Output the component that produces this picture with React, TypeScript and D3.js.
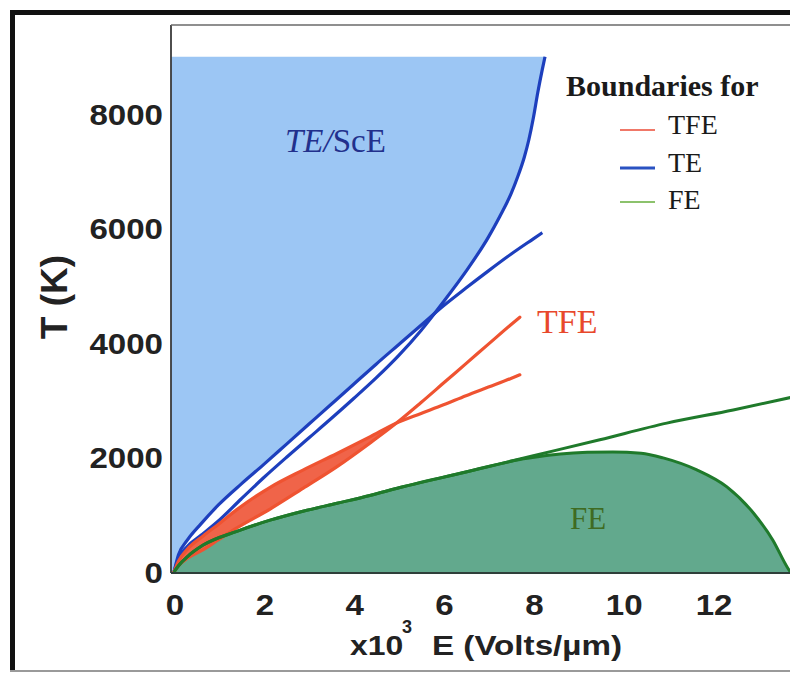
import React from 'react';
import * as d3 from 'd3';

// ---------- data (E in x10^3 Volts/µm, T in K) ----------
const E_TICKS = [0, 2, 4, 6, 8, 10, 12];
const T_TICKS = [0, 2000, 4000, 6000, 8000];

// TE boundary, gentle (concave) branch
const TE_GENTLE_E = [0, 0.1, 0.3, 0.6, 1.0, 1.5, 2.0, 2.5, 3.0, 3.5, 4.0, 4.5, 5.0, 5.5, 6.0, 6.5, 7.0, 7.5, 8.0, 8.2];
const TE_GENTLE_T = [0, 300, 560, 840, 1180, 1540, 1880, 2230, 2580, 2930, 3280, 3630, 3970, 4310, 4650, 4960, 5260, 5550, 5820, 5927];

// TE boundary, steep (convex) branch
const TE_STEEP_E = [0, 0.1, 0.3, 0.6, 1.0, 1.5, 2.0, 2.5, 3.0, 3.5, 4.0, 4.5, 5.0, 5.5, 6.0, 6.5, 7.0, 7.25, 7.5, 7.65, 7.8, 7.9, 8.0, 8.1, 8.2, 8.26];
const TE_STEEP_T = [0, 240, 450, 640, 900, 1280, 1650, 2000, 2340, 2680, 3030, 3390, 3780, 4220, 4720, 5250, 5850, 6206, 6600, 6900, 7250, 7550, 7930, 8380, 8780, 9000];
const TE_FILL_TOP = 9000;

// TFE boundaries (two curves that bound the band, then split)
const TFE_E = [0, 0.1, 0.3, 0.65, 1.0, 1.4, 2.14, 2.87, 3.63, 4.36, 4.96, 5.5, 6.0, 6.5, 7.0, 7.5, 7.7];
const TFE_A_T = [0, 190, 400, 630, 840, 1090, 1480, 1780, 2070, 2360, 2605, 2770, 2920, 3080, 3230, 3380, 3444];
const TFE_B_T = [0, 110, 240, 390, 570, 770, 1100, 1460, 1840, 2250, 2605, 2960, 3300, 3640, 3980, 4320, 4450];
const TFE_BAND_END = 4.96;

// FE boundary line
const FE_LINE_E = [0, 0.1, 0.3, 0.65, 1.4, 2.14, 2.87, 3.63, 4.36, 5.03, 6.52, 8.0, 9.48, 10.97, 12.45, 13.8];
const FE_LINE_T = [0, 110, 270, 470, 710, 905, 1062, 1200, 1335, 1475, 1750, 2030, 2310, 2600, 2830, 3060];

// FE dome
const FE_DOME_E = [0, 0.1, 0.3, 0.65, 1.4, 2.14, 2.87, 3.63, 4.36, 5.03, 6.52, 7.7, 8.1, 8.6, 9.2, 9.77, 10.4, 10.89, 11.64, 12.31, 12.9, 13.33, 13.65, 13.72];
const FE_DOME_T = [0, 110, 270, 470, 710, 905, 1062, 1200, 1335, 1475, 1750, 1965, 2012, 2060, 2090, 2098, 2075, 1993, 1783, 1486, 1031, 559, 87, 0];

const LEGEND_LABELS = ['TFE', 'TE', 'FE'];

// ---------- layout / style ----------
const W = 790;
const H = 674;
const PLOT_LEFT = 171;
const PLOT_TOP = 25;
const PLOT_RIGHT = 800;
const AXIS_Y = 573;

const C_BLUE_FILL = '#9cc6f4';
const C_BLUE = '#1d3fbd';
const C_RED = '#ef5331';
const C_RED_FILL = '#f06449';
const C_GREEN = '#1f7a2b';
const C_GREEN_FILL = '#62a98d';
const LEGEND_COLORS = ['#f07868', '#2a52c2', '#8cc26c'];
const LEGEND_WIDTHS = [2, 3, 2];

const SANS = '"Liberation Sans", Arial, sans-serif';
const SERIF = '"Liberation Serif", "Times New Roman", serif';

export default function App() {
  const x = d3.scaleLinear().domain([0, 12]).range([174, 713]);
  const y = d3.scaleLinear().domain([0, 8000]).range([572, 114]);

  const pts = (es: number[], ts: number[]) => es.map((e, i) => [e, ts[i]] as [number, number]);

  const line = d3
    .line<[number, number]>()
    .x((d) => x(d[0]))
    .y((d) => y(d[1]))
    .curve(d3.curveMonotoneX);

  const gentle = pts(TE_GENTLE_E, TE_GENTLE_T);
  const steep = pts(TE_STEEP_E, TE_STEEP_T);

  // envelope (upper boundary) of the two TE curves
  const interp = (es: number[], ts: number[], e: number) => {
    const i = d3.bisectRight(es, e) - 1;
    if (i < 0) return ts[0];
    if (i >= es.length - 1) return ts[es.length - 1];
    const f = (e - es[i]) / (es[i + 1] - es[i]);
    return ts[i] + f * (ts[i + 1] - ts[i]);
  };
  let crossE = 0;
  for (let e = 1; e < 8.2; e += 0.005) {
    if (interp(TE_STEEP_E, TE_STEEP_T, e) >= interp(TE_GENTLE_E, TE_GENTLE_T, e)) {
      crossE = e;
      break;
    }
  }
  const env: [number, number][] = [
    ...gentle.filter((d) => d[0] < crossE - 0.05),
    [crossE, interp(TE_STEEP_E, TE_STEEP_T, crossE)],
    ...steep.filter((d) => d[0] > crossE + 0.05),
  ];
  const envPath = line(env) as string;
  const lastS = steep[steep.length - 1];
  const blueD =
    `M${PLOT_LEFT},${y(0)}` +
    envPath.replace(/^M/, 'L') +
    `L${x(lastS[0])},${y(TE_FILL_TOP)}L${PLOT_LEFT},${y(TE_FILL_TOP)}Z`;

  const dome = pts(FE_DOME_E, FE_DOME_T);
  const domeArea = d3
    .area<[number, number]>()
    .x((d) => x(d[0]))
    .y0(y(0))
    .y1((d) => y(d[1]))
    .curve(d3.curveMonotoneX);

  const tfeA = pts(TFE_E, TFE_A_T);
  const tfeB = pts(TFE_E, TFE_B_T);
  const bandIdx = TFE_E.map((e, i) => i).filter((i) => TFE_E[i] <= TFE_BAND_END);
  const band = d3
    .area<number>()
    .x((i) => x(TFE_E[i]))
    .y0((i) => y(TFE_B_T[i]))
    .y1((i) => y(TFE_A_T[i]))
    .curve(d3.curveMonotoneX);

  const feLine = pts(FE_LINE_E, FE_LINE_T);

  const sx = 1.14;

  return (
    <svg
      width={W}
      height={H}
      style={{ position: 'absolute', left: 0, top: 0, background: '#fff' }}
    >
      <defs>
        <clipPath id="plotclip">
          <rect x={PLOT_LEFT} y={PLOT_TOP} width={PLOT_RIGHT - PLOT_LEFT} height={AXIS_Y - PLOT_TOP} />
        </clipPath>
      </defs>
      <rect x={0} y={0} width={W} height={H} fill="#fff" />

      {/* outer frame */}
      <line x1={12.5} y1={10} x2={12.5} y2={672} stroke="#111" strokeWidth={5} />
      <line x1={10} y1={12.5} x2={W} y2={12.5} stroke="#111" strokeWidth={5} />
      <line x1={10} y1={671} x2={W} y2={671} stroke="#9a9a9a" strokeWidth={2} />

      <g clipPath="url(#plotclip)">
        <path d={blueD} fill={C_BLUE_FILL} />
        <path d={domeArea(dome) as string} fill={C_GREEN_FILL} />

        <path d={line(steep) as string} fill="none" stroke={C_BLUE} strokeWidth={3.2} />
        <path d={line(gentle) as string} fill="none" stroke={C_BLUE} strokeWidth={3.2} />

        <path d={band(bandIdx) as string} fill={C_RED_FILL} />
        <path d={line(tfeA) as string} fill="none" stroke={C_RED} strokeWidth={3.2} strokeLinecap="round" />
        <path d={line(tfeB) as string} fill="none" stroke={C_RED} strokeWidth={3.2} strokeLinecap="round" />

        <path d={line(dome) as string} fill="none" stroke={C_GREEN} strokeWidth={3} />
        <path d={line(feLine) as string} fill="none" stroke={C_GREEN} strokeWidth={3} />
      </g>

      {/* plot border */}
      <line x1={PLOT_LEFT} y1={PLOT_TOP} x2={PLOT_LEFT} y2={AXIS_Y} stroke="#3a3a3a" strokeWidth={1.8} />
      <line x1={PLOT_LEFT} y1={PLOT_TOP} x2={W} y2={PLOT_TOP} stroke="#6a6a6a" strokeWidth={1.5} />
      <line x1={PLOT_LEFT} y1={AXIS_Y} x2={W} y2={AXIS_Y} stroke="#2f3f3a" strokeWidth={2} />

      {/* y tick labels */}
      {T_TICKS.map((t) => (
        <text
          key={'yt' + t}
          transform={`translate(163,${y(t) + 10.5}) scale(${sx},1)`}
          textAnchor="end"
          fontFamily={SANS}
          fontWeight="bold"
          fontSize={29}
          fill="#222"
        >
          {t}
        </text>
      ))}

      {/* x tick labels */}
      {E_TICKS.map((e) => (
        <text
          key={'xt' + e}
          transform={`translate(${x(e) + 1},615) scale(${sx},1)`}
          textAnchor="middle"
          fontFamily={SANS}
          fontWeight="bold"
          fontSize={29}
          fill="#222"
        >
          {e}
        </text>
      ))}

      {/* axis titles */}
      <text
        transform="translate(67,297) rotate(-90)"
        textAnchor="middle"
        fontFamily={SANS}
        fontWeight="bold"
        fontSize={37}
        fill="#222"
      >
        T (K)
      </text>
      <text
        transform={`translate(350,655) scale(${sx},1)`}
        fontFamily={SANS}
        fontWeight="bold"
        fontSize={28}
        fill="#222"
      >
        x10
      </text>
      <text x={402} y={633} fontFamily={SANS} fontWeight="bold" fontSize={18} fill="#222">
        3
      </text>
      <text
        x={432}
        y={655}
        textLength={190}
        lengthAdjust="spacingAndGlyphs"
        fontFamily={SANS}
        fontWeight="bold"
        fontSize={28}
        fill="#222"
      >
        E (Volts/µm)
      </text>

      {/* region labels */}
      <text x={285} y={152} fontFamily={SERIF} fontSize={33} fill="#22308c">
        <tspan fontStyle="italic">TE/</tspan>
        <tspan>ScE</tspan>
      </text>
      <text x={537} y={333} fontFamily={SERIF} fontSize={34} fill="#e8482b">
        TFE
      </text>
      <text x={570} y={529} fontFamily={SERIF} fontSize={31} fill="#3f6b22">
        FE
      </text>

      {/* legend */}
      <text x={566} y={96} fontFamily={SERIF} fontWeight="bold" fontSize={30} fill="#1a1a1a">
        Boundaries for
      </text>
      {LEGEND_LABELS.map((lab, i) => {
        const base = [134, 172, 209][i];
        return (
          <g key={lab}>
            <line
              x1={620}
              x2={655}
              y1={base - 4 - (i === 2 ? 3 : 0)}
              y2={base - 4 - (i === 2 ? 3 : 0)}
              stroke={LEGEND_COLORS[i]}
              strokeWidth={LEGEND_WIDTHS[i]}
            />
            <text x={668} y={base} fontFamily={SERIF} fontSize={28} fill="#1a1a1a">
              {lab}
            </text>
          </g>
        );
      })}
    </svg>
  );
}
